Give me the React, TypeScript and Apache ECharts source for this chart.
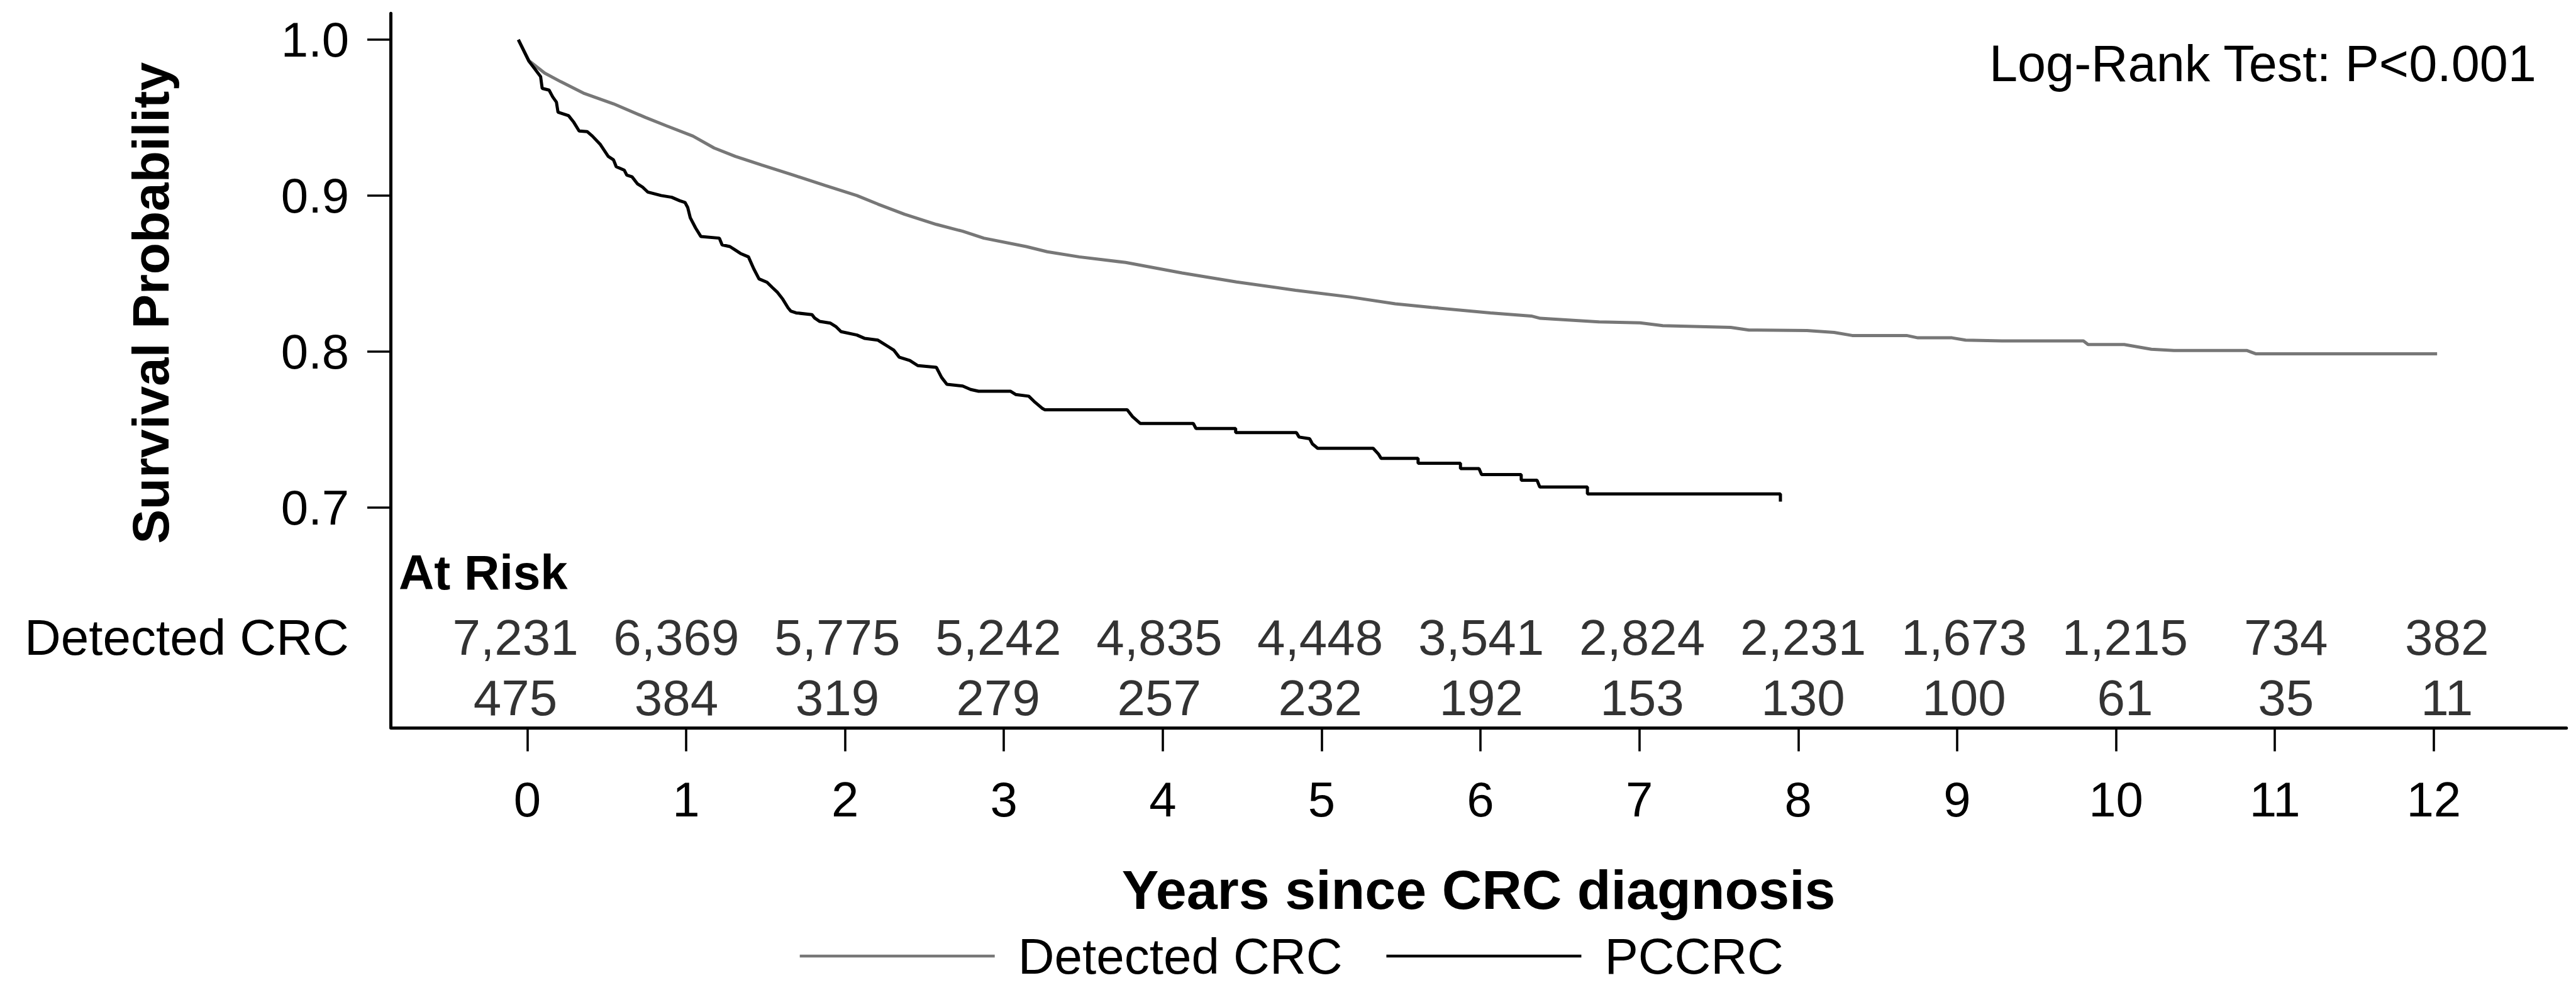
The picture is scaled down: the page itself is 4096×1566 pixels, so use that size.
import React, { useEffect, useRef } from 'react';
import * as echarts from 'echarts';

const FONT = '"Liberation Sans", Arial, Helvetica, sans-serif';

// Tick values
const years = [0, 1, 2, 3, 4, 5, 6, 7, 8, 9, 10, 11, 12];
const yTicks = [0.7, 0.8, 0.9, 1.0];

// Groups / legend
const groups = ['Detected CRC', 'PCCRC'];

// Numbers at risk
const atRiskDetected = [7231, 6369, 5775, 5242, 4835, 4448, 3541, 2824, 2231, 1673, 1215, 734, 382];
const atRiskPCCRC = [475, 384, 319, 279, 257, 232, 192, 153, 130, 100, 61, 35, 11];

// Kaplan-Meier curves [years, survival]
const detectedCurve: [number, number][] = [
  [0, 1], [0.066, 0.9866], [0.165, 0.9786], [0.265, 0.9731], [0.413, 0.9655], [0.595, 0.9589],
  [0.794, 0.9502], [0.926, 0.9448], [1.092, 0.9382], [1.224, 0.9306], [1.357, 0.9252], [1.522, 0.9197],
  [1.72, 0.9132], [1.919, 0.9066], [2.117, 0.9001], [2.249, 0.8946], [2.415, 0.8881], [2.614, 0.8816],
  [2.779, 0.8772], [2.911, 0.8728], [3.176, 0.8674], [3.308, 0.8641], [3.507, 0.8608], [3.798, 0.8572],
  [4.151, 0.8505], [4.491, 0.8447], [4.86, 0.8394], [5.2, 0.8351], [5.484, 0.8307], [5.711, 0.8284],
  [6.079, 0.8249], [6.335, 0.8229], [6.391, 0.8214], [6.76, 0.8191], [7.015, 0.8185], [7.157, 0.8167],
  [7.582, 0.8156], [7.696, 0.8139], [8.059, 0.8136], [8.229, 0.8124], [8.342, 0.8104], [8.682, 0.8104],
  [8.753, 0.8089], [8.966, 0.8089], [9.051, 0.8074], [9.278, 0.8069], [9.788, 0.8069], [9.817, 0.8046],
  [10.043, 0.8046], [10.213, 0.8016], [10.355, 0.8008], [10.809, 0.8008], [10.865, 0.7987], [12.0, 0.7987],
];

const pccrcCurve: [number, number][] = [
  [0, 1], [0.066, 0.9862], [0.099, 0.9818], [0.139, 0.9764], [0.149, 0.9688], [0.192, 0.9677],
  [0.215, 0.9633], [0.238, 0.96], [0.248, 0.9535], [0.281, 0.9524], [0.314, 0.9513], [0.347, 0.947],
  [0.38, 0.9415], [0.43, 0.9411], [0.463, 0.9382], [0.513, 0.9328], [0.562, 0.9252], [0.595, 0.923],
  [0.612, 0.9186], [0.662, 0.9164], [0.678, 0.9132], [0.711, 0.9121], [0.744, 0.9077], [0.777, 0.9055],
  [0.81, 0.9023], [0.893, 0.9001], [0.959, 0.899], [1.009, 0.8968], [1.042, 0.8957], [1.059, 0.8925],
  [1.075, 0.8859], [1.108, 0.8794], [1.141, 0.8739], [1.257, 0.8728], [1.274, 0.8685], [1.323, 0.8674],
  [1.356, 0.8652], [1.389, 0.863], [1.439, 0.8608], [1.472, 0.8532], [1.505, 0.8467], [1.555, 0.8445],
  [1.588, 0.8412], [1.621, 0.838], [1.654, 0.8336], [1.687, 0.8281], [1.704, 0.826], [1.737, 0.8249],
  [1.836, 0.8238], [1.853, 0.8216], [1.885, 0.8194], [1.952, 0.8183], [1.985, 0.8162], [2.018, 0.8129],
  [2.117, 0.8107], [2.167, 0.8085], [2.249, 0.8074], [2.282, 0.8053], [2.316, 0.8031], [2.349, 0.8009],
  [2.382, 0.7965], [2.448, 0.7944], [2.498, 0.7911], [2.614, 0.79], [2.647, 0.7835], [2.68, 0.7791],
  [2.779, 0.778], [2.829, 0.7758], [2.878, 0.7747], [3.077, 0.7747], [3.11, 0.7726], [3.192, 0.7715],
  [3.225, 0.7682], [3.275, 0.7638], [3.292, 0.7628], [3.808, 0.7628], [3.841, 0.7584], [3.89, 0.754],
  [4.221, 0.754], [4.238, 0.7508], [4.486, 0.7508], [4.486, 0.7482], [4.866, 0.7482], [4.883, 0.7453],
  [4.949, 0.7442], [4.966, 0.7409], [4.999, 0.7381], [5.346, 0.7381], [5.379, 0.7344], [5.396, 0.7316],
  [5.627, 0.7316], [5.627, 0.7285], [5.892, 0.7285], [5.892, 0.7251], [6.008, 0.7251], [6.024, 0.7213],
  [6.272, 0.7213], [6.272, 0.7176], [6.371, 0.7176], [6.388, 0.7133], [6.686, 0.7133], [6.686, 0.7089],
  [7.893, 0.7089], [7.893, 0.7039],
];

const logRankText = 'Log-Rank Test: P<0.001';
const xTitle = 'Years since CRC diagnosis';
const yTitle = 'Survival Probability';
const atRiskTitle = 'At Risk';

const GRAY = '#777777';

export default function App() {
  const ref = useRef<HTMLDivElement>(null);

  useEffect(() => {
    document.body.style.margin = '0';
    if (!ref.current) return;
    const chart = echarts.init(ref.current, null, { renderer: 'svg' });

    const numLabel = {
      show: true,
      position: 'inside',
      fontSize: 80,
      fontFamily: FONT,
      color: '#000',
      formatter: (p: any) => Number(p.value[2]).toLocaleString('en-US'),
    };

    const option: any = {
      animation: false,
      backgroundColor: '#ffffff',
      textStyle: { fontFamily: FONT },
      grid: [
        { left: 621.7, right: 15.3, top: 21.2, bottom: 409.2 },
        { left: 621.7, right: 15.3, top: 965.6, height: 192.2 },
      ],
      xAxis: [
        {
          type: 'value', gridIndex: 0, min: -0.8576, max: 12.835,
          axisLine: { show: true, onZero: false, lineStyle: { color: '#000', width: 5 } },
          axisTick: { show: true, customValues: years, length: 37.7, lineStyle: { color: '#000', width: 3.6 } },
          axisLabel: { show: true, customValues: years, margin: 75, fontSize: 78, color: '#000', fontFamily: FONT },
          splitLine: { show: false },
          name: xTitle, nameLocation: 'middle', nameGap: 213.6,
          nameTextStyle: { fontSize: 88, fontWeight: 'bold', color: '#000', fontFamily: FONT },
        },
        { type: 'value', gridIndex: 0, min: -0.7966, max: 12.8085, show: false, axisLine: { onZero: false } },
        { type: 'value', gridIndex: 1, min: -0.7729, max: 12.742, show: false, axisLine: { onZero: false } },
      ],
      yAxis: [
        {
          type: 'value', gridIndex: 0, min: 0.55906, max: 1.0169,
          axisLine: { show: true, onZero: false, lineStyle: { color: '#000', width: 5 } },
          axisTick: { show: true, customValues: yTicks, length: 37.7, lineStyle: { color: '#000', width: 3.6 } },
          axisLabel: {
            show: true, customValues: yTicks, margin: 66.5, fontSize: 78, color: '#000', fontFamily: FONT,
            formatter: (v: number) => v.toFixed(1),
          },
          splitLine: { show: false },
        },
        {
          type: 'category', gridIndex: 1, data: groups, inverse: true,
          axisLine: { show: false, onZero: false }, axisTick: { show: false },
          axisLabel: { show: true, margin: 67, fontSize: 80, color: '#000', fontFamily: FONT },
          splitLine: { show: false },
        },
      ],
      legend: {
        show: true, left: 1271.7, top: 1480, padding: 0, itemGap: 70,
        itemWidth: 310, itemHeight: 4.5, icon: 'rect', selectedMode: false,
        data: groups,
        textStyle: { fontSize: 80, color: '#000', fontFamily: FONT, padding: [0, 0, 0, 32] },
      },
      series: [
        {
          name: groups[0], type: 'line', xAxisIndex: 1, yAxisIndex: 0, data: detectedCurve,
          symbol: 'none', color: GRAY, lineStyle: { color: GRAY, width: 5 }, silent: true,
        },
        {
          name: groups[1], type: 'line', xAxisIndex: 1, yAxisIndex: 0, data: pccrcCurve,
          symbol: 'none', color: '#000', lineStyle: { color: '#000', width: 5 }, silent: true,
        },
        {
          name: 'atrisk-detected', type: 'scatter', xAxisIndex: 2, yAxisIndex: 1,
          data: years.map((y, i) => [y, groups[0], atRiskDetected[i]]),
          symbolSize: 0, itemStyle: { color: 'transparent' }, label: numLabel, silent: true,
        },
        {
          name: 'atrisk-pccrc', type: 'scatter', xAxisIndex: 2, yAxisIndex: 1,
          data: years.map((y, i) => [y, groups[1], atRiskPCCRC[i]]),
          symbolSize: 0, itemStyle: { color: 'transparent' }, label: numLabel, silent: true,
        },
      ],
      graphic: [
        {
          type: 'text', x: 239.7, y: 481.8, rotation: Math.PI / 2, silent: true,
          style: {
            text: yTitle, fontSize: 82, fontWeight: 'bold', fontFamily: FONT, fill: '#000',
            textAlign: 'center', textVerticalAlign: 'middle', align: 'center', verticalAlign: 'middle',
          },
        },
        {
          type: 'text', x: 634, y: 910, silent: true,
          style: {
            text: atRiskTitle, fontSize: 78, fontWeight: 'bold', fontFamily: FONT, fill: '#000',
            textAlign: 'left', textVerticalAlign: 'middle', align: 'left', verticalAlign: 'middle',
          },
        },
        {
          type: 'text', x: 3163, y: 100.9, silent: true,
          style: {
            text: logRankText, fontSize: 81, fontFamily: FONT, fill: '#000',
            textAlign: 'left', textVerticalAlign: 'middle', align: 'left', verticalAlign: 'middle',
          },
        },
      ],
    };

    chart.setOption(option);
    return () => chart.dispose();
  }, []);

  return (
    <div
      ref={ref}
      style={{ position: 'fixed', left: 0, top: 0, width: 4096, height: 1566, background: '#fff' }}
    />
  );
}
